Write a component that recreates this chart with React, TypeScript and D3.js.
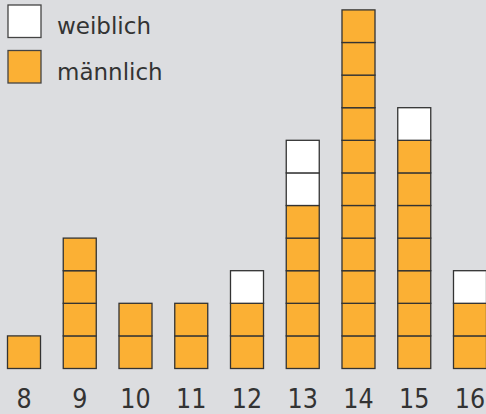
import React from 'react';
import * as d3 from 'd3';

// Alter in Jahren, Anzahl je Geschlecht
const alter = ['8', '9', '10', '11', '12', '13', '14', '15', '16'];
const maennlich = [1, 4, 2, 2, 2, 5, 11, 7, 2];
const weiblich = [0, 0, 0, 0, 1, 2, 0, 1, 1];
const legende = [
  { label: 'weiblich', color: '#ffffff' },
  { label: 'männlich', color: '#fbb034' },
];

const W = 486;
const H = 414;

export default function App() {
  const x = d3.scaleBand().domain(alter).range([7.5, 486.5]).paddingInner(0.408).paddingOuter(0);
  const y = d3.scaleLinear().domain([0, 11]).range([368.5, 9.9]);

  const cells: { key: string; x: number; y0: number; y1: number; fill: string }[] = [];
  alter.forEach((a, i) => {
    const m = maennlich[i];
    const f = weiblich[i];
    for (let k = 0; k < m + f; k++) {
      cells.push({
        key: a + '-' + k,
        x: x(a)!,
        y0: y(k + 1),
        y1: y(k),
        fill: k < m ? '#fbb034' : '#ffffff',
      });
    }
  });

  return (
    <svg width={W} height={H} style={{ position: 'absolute', left: 0, top: 0, background: '#dcdde0' }}>
      <rect width={W} height={H} fill="#dcdde0" />
      {cells.map((c) => (
        <rect
          key={c.key}
          x={c.x}
          y={c.y0}
          width={x.bandwidth()}
          height={c.y1 - c.y0}
          fill={c.fill}
          stroke="#333"
          strokeWidth={1.3}
        />
      ))}
      {alter.map((a) => (
        <text
          key={a}
          x={x(a)! + x.bandwidth() / 2}
          y={408}
          textAnchor="middle"
          fontFamily="'Liberation Sans Narrow', 'DejaVu Sans Condensed', sans-serif"
          fontSize={26.5}
          fill="#333"
        >
          {a}
        </text>
      ))}
      {legende.map((l, i) => (
        <g key={l.label} transform={`translate(8, ${5 + i * 45.5})`}>
          <rect width={33} height={32.5} fill={l.color} stroke="#444" strokeWidth={1.3} />
          <text x={49} y={29} fontFamily="'DejaVu Sans', sans-serif" fontSize={23} fill="#333">
            {l.label}
          </text>
        </g>
      ))}
    </svg>
  );
}
